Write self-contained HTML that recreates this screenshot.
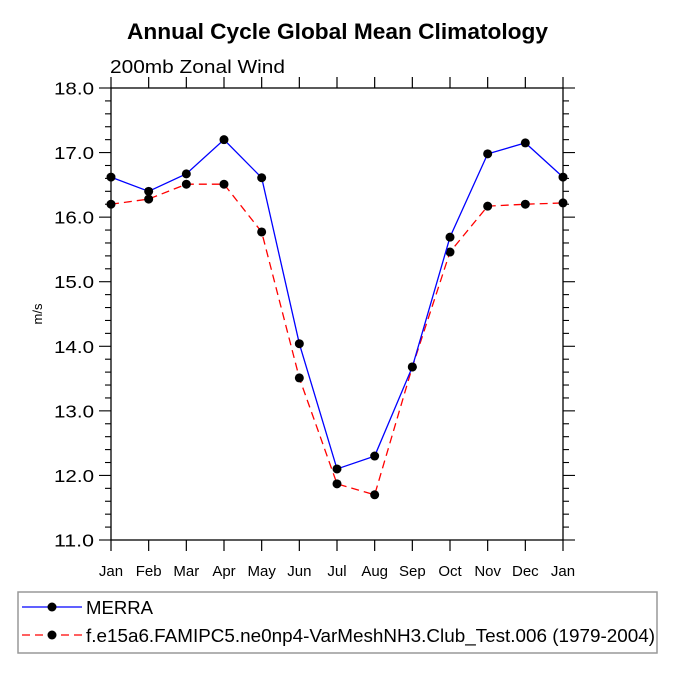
<!DOCTYPE html>
<html><head><meta charset="utf-8"><style>body{margin:0;background:#fff}svg text{font-family:"Liberation Sans",sans-serif}</style></head>
<body>
<svg id="chart" width="675" height="675" viewBox="0 0 675 675" xmlns="http://www.w3.org/2000/svg">
<text x="127" y="39" font-size="22" font-weight="bold" textLength="421" lengthAdjust="spacingAndGlyphs">Annual Cycle Global Mean Climatology</text>
<text x="110" y="73" font-size="18.5" textLength="175" lengthAdjust="spacingAndGlyphs">200mb Zonal Wind</text>
<text transform="translate(42,314) rotate(-90)" text-anchor="middle" font-size="13">m/s</text>
<g id="axes"></g>
<g id="series"></g>
<rect x="18" y="592" width="639" height="61" fill="none" stroke="#999" stroke-width="1.5"/>
<g>
<line x1="22" y1="607" x2="82" y2="607" stroke="#00f" stroke-width="1.3"/><circle cx="52" cy="607" r="4.5"/>
<text x="86" y="614" font-size="18.5" textLength="67" lengthAdjust="spacingAndGlyphs">MERRA</text></g>
<g>
<line x1="22" y1="635" x2="82" y2="635" stroke="#f00" stroke-width="1.3" stroke-dasharray="8,5"/><circle cx="52" cy="635" r="4.5"/>
<text x="86" y="642" font-size="18.5" textLength="569" lengthAdjust="spacingAndGlyphs">f.e15a6.FAMIPC5.ne0np4-VarMeshNH3.Club_Test.006 (1979-2004)</text></g>
</svg>
<script>
const months=["Jan","Feb","Mar","Apr","May","Jun","Jul","Aug","Sep","Oct","Nov","Dec","Jan"];
const merra=[16.62,16.40,16.67,17.20,16.61,14.04,12.10,12.30,13.68,15.69,16.98,17.15,16.62];
const model=[16.20,16.28,16.51,16.51,15.77,13.51,11.87,11.70,13.68,15.46,16.17,16.20,16.22];
const yTicks=["11.0","12.0","13.0","14.0","15.0","16.0","17.0","18.0"];
const X0=111,X1=563,Y0=540,Y1=88,YMIN=11,YMAX=18;
const NS="http://www.w3.org/2000/svg";
const xs=i=>X0+(X1-X0)*i/(months.length-1);
const ys=v=>Y0-(Y0-Y1)*(v-YMIN)/(YMAX-YMIN);
function mk(tag,attrs,parent){const e=document.createElementNS(NS,tag);for(const k in attrs)e.setAttribute(k,attrs[k]);parent.appendChild(e);return e;}
const ax=document.getElementById('axes');
const frame=mk('rect',{x:X0,y:Y1,width:X1-X0,height:Y0-Y1,fill:'none',stroke:'#000','stroke-width':1.3},ax);


months.forEach((m,i)=>{const x=xs(i);
mk('line',{x1:x,y1:Y0,x2:x,y2:Y0+11,stroke:'#000','stroke-width':1.2},ax);
mk('line',{x1:x,y1:Y1,x2:x,y2:Y1-11,stroke:'#000','stroke-width':1.2},ax);
const t=mk('text',{x:x,y:576,'text-anchor':'middle','font-size':15},ax);t.textContent=m;

});
for(let v=YMIN;v<=YMAX+1e-9;v+=0.2){const y=ys(v);const maj=Math.abs(v-Math.round(v))<1e-6;const L=maj?12:6;
mk('line',{x1:X0,y1:y,x2:X0-L,y2:y,stroke:'#000','stroke-width':1.1},ax);
mk('line',{x1:X1,y1:y,x2:X1+L,y2:y,stroke:'#000','stroke-width':1.1},ax);}
yTicks.forEach(s=>{const y=ys(parseFloat(s));const t=mk('text',{x:94,y:y+6.5,'text-anchor':'end','font-size':17.5,textLength:40,lengthAdjust:'spacingAndGlyphs'},ax);t.textContent=s;

});
const sg=document.getElementById('series');
function series(vals,color,dash,name){
const p=mk('polyline',{points:vals.map((v,i)=>xs(i)+','+ys(v)).join(' '),fill:'none',stroke:color,'stroke-width':1.3,'stroke-dasharray':dash},sg);


vals.forEach((v,i)=>{const c=mk('circle',{cx:xs(i),cy:ys(v),r:4.5,fill:'#000'},sg);

});}
series(model,'#f00','8,5','model');
series(merra,'#00f','none','merra');
</script>
</body></html>
